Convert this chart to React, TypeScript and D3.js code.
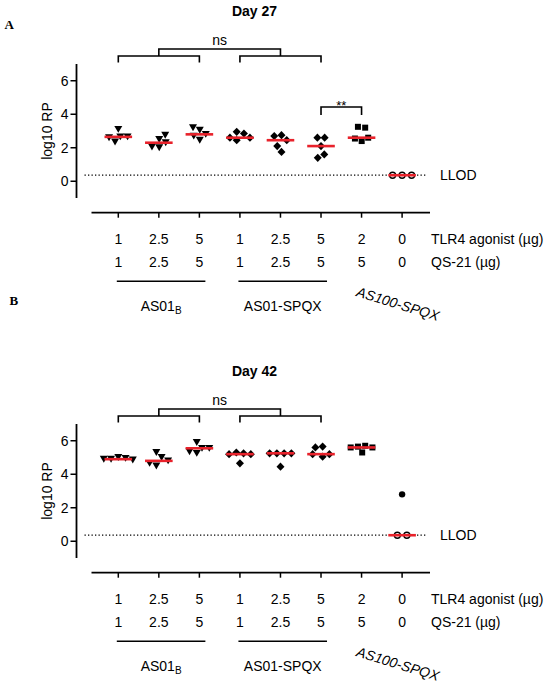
import * as d3 from "d3";

// x categories: dose of each adjuvant group
const tlr4Doses = ["1", "2.5", "5", "1", "2.5", "5", "2", "0"];
const qs21Doses = ["1", "2.5", "5", "1", "2.5", "5", "5", "0"];
const groupIdx = d3.range(tlr4Doses.length);

// formulation groups under the axis
const formulationNames = ["AS01", "AS01-SPQX", "AS100-SPQX"];
const formulationSpans = [[0, 2], [3, 5], [6, 7]];

const yTicks = [0, 2, 4, 6];
const LLOD = 0.36;

// log10 RP per animal, one array per group
const day27 = [
  [3.1, 2.35, 2.65, 2.6, 2.65],
  [2.5, 2.0, 2.3, 2.75, 2.05],
  [3.05, 2.45, 2.8, 3.2, 2.7],
  [2.95, 2.45, 2.85, 2.6, 2.6],
  [2.75, 1.75, 2.45, 2.7, 2.1],
  [2.6, 1.4, 2.1, 2.6, 1.6],
  [2.4, 3.25, 2.6, 3.2, 2.55],
  [0.36, 0.36, 0.36],
];
const day42 = [
  [5.0, 4.95, 4.9, 4.85, 4.9],
  [5.3, 4.5, 5.0, 4.65, 4.8],
  [5.9, 5.25, 5.55, 5.35, 5.55],
  [5.3, 5.25, 5.2, 5.2, 4.65],
  [5.25, 5.25, 5.25, 5.25, 4.45],
  [5.05, 5.65, 5.2, 5.6, 5.2],
  [5.65, 5.7, 5.6, 5.6, 5.3],
  [2.8, 0.36, 0.36],
];

const markerShapes = ["tri", "tri", "tri", "diamond", "diamond", "diamond", "square", "circle"];

const SANS = "'Liberation Sans', Arial, sans-serif";
const SERIF = "'Liberation Serif', 'Times New Roman', serif";
const RED = "#e8222b";

// simple beeswarm: push points sideways until they stop overlapping,
// then center each cluster of vertically overlapping points
function swarm(values: number[], y: (v: number) => number, d: number) {
  const placed: { x: number; y: number }[] = [];
  values.forEach((v) => {
    const py = y(v);
    let best = 0;
    for (let k = 0; k < 400; k++) {
      const cand = k === 0 ? 0 : (k % 2 ? 1 : -1) * Math.ceil(k / 2) * 0.25;
      if (placed.every((p) => Math.hypot(p.x - cand, p.y - py) >= d - 1e-6)) {
        best = cand;
        break;
      }
    }
    placed.push({ x: best, y: py });
  });
  // clusters by vertical overlap
  const order = d3.range(placed.length).sort((a, b) => placed[a].y - placed[b].y);
  const comp: number[] = new Array(placed.length);
  let c = 0;
  order.forEach((idx, k) => {
    if (k > 0 && placed[idx].y - placed[order[k - 1]].y >= d) c++;
    comp[idx] = c;
  });
  const out = placed.map((p) => p.x);
  for (let ci = 0; ci <= c; ci++) {
    const members = d3.range(placed.length).filter((i) => comp[i] === ci);
    const lo = d3.min(members, (i) => placed[i].x) ?? 0;
    const hi = d3.max(members, (i) => placed[i].x) ?? 0;
    members.forEach((i) => (out[i] = placed[i].x - (lo + hi) / 2));
  }
  return out;
}

function Marker({ shape, cx, cy, value }: { shape: string; cx: number; cy: number; value: number }) {
  if (shape === "tri")
    return <path d={`M${cx - 4},${cy - 3.4}L${cx + 4},${cy - 3.4}L${cx},${cy + 3.5}Z`} fill="#000" />;
  if (shape === "diamond")
    return <path d={`M${cx},${cy - 4.1}L${cx + 4},${cy}L${cx},${cy + 4.1}L${cx - 4},${cy}Z`} fill="#000" />;
  if (shape === "square") return <rect x={cx - 3} y={cy - 3} width={6} height={6} fill="#000" />;
  if (value <= LLOD) return <circle cx={cx} cy={cy} r={3} fill="#fff" stroke="#000" strokeWidth={1.4} />;
  return <circle cx={cx} cy={cy} r={3.2} fill="#000" />;
}

function Panel({ title, data, dy, showStars }: { title: string; data: number[][]; dy: number; showStars: boolean }) {
  const x = d3.scalePoint<number>().domain(groupIdx).range([118.3, 402.1]);
  const y = d3.scaleLinear().domain([-1, 7]).range([198, 64]);
  const xAxisY = 212.7;
  const yAxisX = 76.5;
  const X = (i: number) => x(i) as number;

  const bracket = (a: number, b: number, top: number, bottom: number) =>
    `M${a},${bottom}V${top}H${b}V${bottom}`;

  return (
    <g transform={`translate(0,${dy})`} fontFamily={SANS} fontSize={14}>
      <text x={254.5} y={15.5} textAnchor="middle" fontWeight="bold">{title}</text>

      {/* significance brackets */}
      <g fill="none" stroke="#000" strokeWidth={1.6}>
        <path d={bracket(X(0), X(2), 56, 62.5)} />
        <path d={bracket(X(3), X(5), 56, 62.5)} />
        <path d={bracket(X(1), X(4), 49, 56)} />
        {showStars && <path d={bracket(X(5), X(6), 107, 115)} />}
      </g>
      <text x={(X(1) + X(4)) / 2} y={45} textAnchor="middle">ns</text>
      {showStars && (
        <text x={(X(5) + X(6)) / 2} y={109.5} textAnchor="middle" fontSize={13}>**</text>
      )}

      {/* y axis */}
      <line x1={yAxisX} x2={yAxisX} y1={y(7)} y2={y(-1)} stroke="#000" strokeWidth={1.8} />
      {yTicks.map((t) => (
        <g key={t}>
          <line x1={yAxisX - 6} x2={yAxisX} y1={y(t)} y2={y(t)} stroke="#000" strokeWidth={1.5} />
          <text x={yAxisX - 8} y={y(t)} dy="0.36em" textAnchor="end">{t}</text>
        </g>
      ))}
      <text transform={`translate(52,${y(3)}) rotate(-90)`} textAnchor="middle">log10 RP</text>

      {/* LLOD */}
      <line x1={84.5} x2={426} y1={y(LLOD)} y2={y(LLOD)} stroke="#000" strokeWidth={1.3} strokeDasharray="1.3 2.2" />
      <text x={440} y={y(LLOD)} dy="0.36em">LLOD</text>

      {/* points and medians */}
      {data.map((vals, gi) => {
        const offs = swarm(vals, y, markerShapes[gi] === "circle" ? 9.5 : 7.2);
        const med = d3.median(vals) ?? 0;
        return (
          <g key={gi}>
            {vals.map((v, k) => (
              <Marker key={k} shape={markerShapes[gi]} cx={X(gi) + offs[k]} cy={y(v)} value={v} />
            ))}
            <line x1={X(gi) - 13.8} x2={X(gi) + 13.8} y1={y(med)} y2={y(med)} stroke={RED} strokeWidth={2.6} />
          </g>
        );
      })}

      {/* x axis */}
      <line x1={91.5} x2={430} y1={xAxisY} y2={xAxisY} stroke="#000" strokeWidth={1.8} />
      {groupIdx.map((i) => (
        <g key={i}>
          <line x1={X(i)} x2={X(i)} y1={xAxisY} y2={xAxisY + 5} stroke="#000" strokeWidth={1.5} />
          <text x={X(i)} y={244.3} textAnchor="middle">{tlr4Doses[i]}</text>
          <text x={X(i)} y={266.7} textAnchor="middle">{qs21Doses[i]}</text>
        </g>
      ))}
      <text x={431} y={244.3}>TLR4 agonist (µg)</text>
      <text x={431} y={266.7}>QS-21 (µg)</text>

      {/* formulation labels */}
      {formulationSpans.slice(0, 2).map(([a, b], k) => {
        const x1 = X(a) - 1.5;
        const x2 = X(b) + 6;
        return (
          <g key={k}>
            <line x1={x1} x2={x2} y1={281.3} y2={281.3} stroke="#000" strokeWidth={1.5} />
            <text x={(x1 + x2) / 2} y={310.5} textAnchor="middle">
              {formulationNames[k]}
              {k === 0 && (
                <tspan fontSize={10} dy={3}>B</tspan>
              )}
            </text>
          </g>
        );
      })}
      <text
        transform={`translate(${X(formulationSpans[2][0]) - 6},296) rotate(17)`}
        fontStyle="italic"
      >
        {formulationNames[2]}
      </text>
    </g>
  );
}

export default function App() {
  return (
    <div style={{ position: "absolute", left: 0, top: 0 }}>
      <svg width={550} height={687} style={{ display: "block", background: "#fff" }}>
        <text x={4.5} y={29.3} fontFamily={SERIF} fontWeight="bold" fontSize={13}>A</text>
        <text x={9.5} y={305} fontFamily={SERIF} fontWeight="bold" fontSize={13}>B</text>
        <Panel title="Day 27" data={day27} dy={0} showStars={true} />
        <Panel title="Day 42" data={day42} dy={360} showStars={false} />
      </svg>
    </div>
  );
}
